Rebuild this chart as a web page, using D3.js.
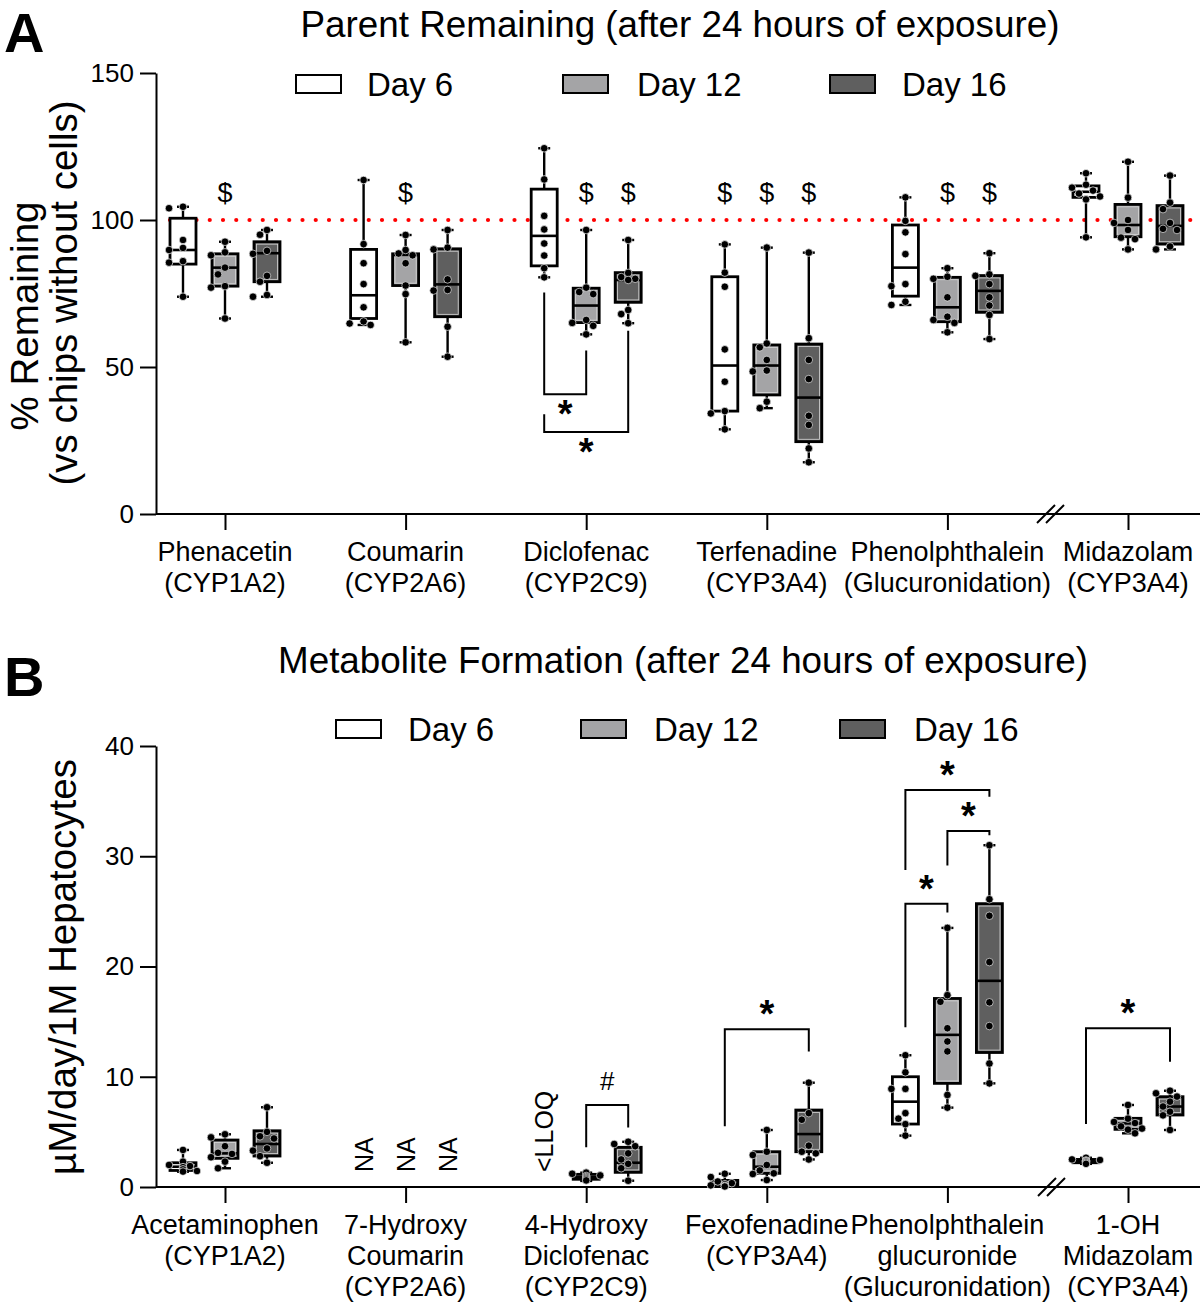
<!DOCTYPE html>
<html><head><meta charset="utf-8">
<script src="https://cdn.jsdelivr.net/npm/d3@7"></script>
<style>body{margin:0;background:#fff}svg{display:block}text{font-family:"Liberation Sans",Arial,sans-serif;fill:#000}</style>
</head><body><svg id="c" width="1200" height="1304"></svg>
<script>
// ---------- DATA ----------
const days = ["Day 6", "Day 12", "Day 16"];
const dayFill = ["#ffffff", "#a4a4a6", "#5f5f5f"];

// Panel A
const catsA = ["Phenacetin", "Coumarin", "Diclofenac", "Terfenadine", "Phenolphthalein", "Midazolam"];
const subA = ["(CYP1A2)", "(CYP2A6)", "(CYP2C9)", "(CYP3A4)", "(Glucuronidation)", "(CYP3A4)"];
const yTicksA = [0, 50, 100, 150];
// [min, q1, median, q3, max] per category, per day
const boxA = [
  [[73.9, 85, 89.8, 100.6, 104.5], [66.5, 77.5, 83.8, 88.5, 92.6], [73.9, 79, 88.7, 92.6, 96.6]],
  [[64.3, 66.5, 74.4, 90, 113.6], [58.4, 77.7, 88.1, 88.5, 94.9], [53.5, 67.1, 78.1, 90.2, 96.6]],
  [[80.5, 84.4, 94.6, 110.5, 124.4], [61.1, 65.1, 70.9, 76.8, 96.6], [64.9, 72, 79.6, 82.1, 93.2]],
  [[28.8, 35, 50.5, 80.7, 91.7], [36, 40.5, 50.5, 57.5, 90.6], [17.6, 24.6, 39.6, 57.8, 88.9]],
  [[71.1, 74.1, 83.8, 98.3, 107.7], [61.8, 65.4, 70.3, 80.5, 83.6], [59.5, 68.6, 75.9, 81.1, 88.7]],
  [[94.1, 107.7, 109.6, 111.6, 115.9], [90, 94.3, 98.3, 105.3, 119.8], [90, 91.8, 98, 104.9, 115.1]]
];
const ptsA = [
  [[104.5, 104, 93.2, 90.5, 89.8, 86, 85.5, 73.9], [92.6, 89, 88, 83.8, 81.5, 77.5, 77, 66.5], [96.6, 95, 89.5, 88.5, 81, 79, 74.5, 73.9]],
  [[113.6, 91.8, 85.3, 78.2, 70.3, 65.5, 64.8, 64.3], [94.9, 89.8, 88.6, 88, 85.3, 77.7, 74.8, 58.4], [96.6, 90.6, 90, 79.8, 76.2, 76, 63.7, 53.5]],
  [[124.4, 113.8, 101.4, 96.8, 92, 87.9, 83.6, 80.5], [96.6, 77, 75.5, 74.8, 66, 65, 64, 61.1], [93.2, 82, 80.6, 80, 79.6, 69.4, 68, 64.9]],
  [[91.7, 82.1, 77.3, 56, 45, 35, 34.2, 28.8], [90.6, 58, 56.7, 52.4, 48.8, 48.5, 38.2, 36], [88.9, 59.8, 52.4, 45.9, 33.4, 30.3, 22.3, 17.6]],
  [[107.7, 99.7, 95.8, 88.4, 78.2, 77.5, 72.2, 71.1], [83.6, 80.7, 80, 73.7, 67.1, 66, 65, 61.8], [88.7, 81.5, 81, 78.2, 73.7, 70.9, 67.7, 59.5]],
  [[115.9, 112, 111, 110, 109, 108, 107, 94.1], [119.8, 107.6, 100, 99, 96.6, 94, 93.5, 90], [115.1, 105.9, 103.7, 99, 97, 96.6, 91, 90]]
];
const refLineA = 100;
// "$" markers: [category, day]
const dollarA = [[0, 1], [1, 1], [2, 1], [2, 2], [3, 0], [3, 1], [3, 2], [4, 1], [4, 2]];
const dollarLevelA = 109.5;
// brackets (below style): cat, fromDay, toDay, leftEnd, bottom, rightEnd, label
const bracketsA = [
  [2, 0, 1, 75.3, 40.7, 55.6, "*"],
  [2, 0, 2, 33.9, 27.9, 62.3, "*"]
];

// Panel B
const catsB = [["Acetaminophen", "(CYP1A2)"], ["7-Hydroxy", "Coumarin", "(CYP2A6)"], ["4-Hydroxy", "Diclofenac", "(CYP2C9)"],
  ["Fexofenadine", "(CYP3A4)"], ["Phenolphthalein", "glucuronide", "(Glucuronidation)"], ["1-OH", "Midazolam", "(CYP3A4)"]];
const yTicksB = [0, 10, 20, 30, 40];
const boxB = [
  [[1.39, 1.5, 1.84, 2.2, 3.36], [1.7, 2.6, 3.05, 4.26, 4.78], [2.2, 2.81, 3.9, 5.1, 7.23]],
  [null, null, null],
  [null, [0.55, 0.7, 0.9, 1.15, 1.3], [0.57, 1.33, 2.2, 3.6, 4.1]],
  [[0.05, 0.1, 0.3, 0.6, 1.2], [0.63, 1.24, 1.84, 3.2, 5.17], [2.5, 3.2, 4.8, 6.98, 9.46]],
  [[4.66, 5.71, 7.74, 10.0, 11.95], [7.2, 9.4, 13.8, 17.1, 23.5], [9.4, 12.2, 18.7, 25.7, 31.0]],
  [[2.1, 2.2, 2.35, 2.5, 2.65], [4.87, 5.23, 5.77, 6.23, 7.44], [5.17, 6.53, 7.3, 8.19, 8.73]]
];
const ptsB = [
  [[3.36, 2.3, 2.0, 1.9, 1.8, 1.6, 1.45, 1.4], [4.78, 4.5, 3.7, 3.1, 3.0, 2.7, 2.3, 1.7], [7.23, 5.0, 4.6, 4.4, 3.5, 3.3, 2.8, 2.2]],
  [[], [], []],
  [[], [1.3, 1.2, 1.05, 1.0, 0.9, 0.8, 0.7, 0.6], [4.1, 3.9, 3.7, 3.05, 2.5, 2.1, 1.7, 0.57]],
  [[1.2, 0.9, 0.5, 0.35, 0.25, 0.15, 0.1, 0.05], [5.17, 3.2, 2.9, 2.0, 1.5, 1.24, 1.18, 0.63], [9.46, 6.7, 6.1, 3.75, 3.2, 3.05, 2.5]],
  [[11.95, 10.4, 8.9, 8.9, 6.7, 6.2, 5.7, 4.66], [23.5, 17.4, 16.8, 14.4, 13.2, 12.3, 8.35, 7.2], [31.0, 26.1, 24.6, 20.4, 16.75, 14.6, 11.2, 9.4]],
  [[2.65, 2.5, 2.45, 2.4, 2.35, 2.3, 2.2, 2.1], [7.44, 6.2, 5.9, 5.8, 5.5, 5.3, 5.2, 4.87], [8.73, 8.5, 8.2, 7.74, 7.3, 6.83, 6.5, 5.17]]
];
// rotated text notes: [category, day, text]
const notesB = [[1, 0, "NA"], [1, 1, "NA"], [1, 2, "NA"], [2, 0, "<LLOQ"]];
// brackets (above style): cat, fromDay, toDay, leftEnd, top, rightEnd, label
const bracketsB = [
  [2, 1, 2, 3.6, 7.44, 5.4, "#"],
  [3, 0, 2, 5.5, 14.3, 12.3, "*"],
  [4, 0, 1, 14.5, 25.7, 24.9, "*"],
  [4, 1, 2, 29.15, 32.3, 31.9, "*"],
  [4, 0, 2, 28.75, 36.0, 35.4, "*"],
  [5, 0, 2, 5.71, 14.4, 11.37, "*"]
];

// ---------- DRAW ----------
const svg = d3.select("#c");
const FONT = '"Liberation Sans",Arial,sans-serif';
const xLeft = 156, xRight = 1200;

function panel(cfg) {
  const g = svg.append("g");
  const y = d3.scaleLinear().domain(cfg.yDomain).range([cfg.y0, cfg.y1]);
  const xc = d3.scalePoint().domain(d3.range(6)).range([225, 1128]);
  const xd = d3.scalePoint().domain(d3.range(3)).range([-42, 42]);
  const X = (c, d) => xc(c) + xd(d);

  // y axis
  const ya = g.append("g").attr("transform", `translate(${xLeft},0)`)
    .call(d3.axisLeft(y).tickValues(cfg.yTicks).tickSize(16).tickSizeOuter(0).tickPadding(6));
  ya.select(".domain").attr("stroke-width", 2);
  ya.selectAll(".tick line").attr("stroke-width", 2);
  ya.selectAll(".tick text").attr("font-size", 26).attr("font-family", FONT);

  // x axis
  const xa = g.append("g").attr("transform", `translate(0,${cfg.y0})`)
    .call(d3.axisBottom(xc).tickSize(16).tickFormat(""));
  xa.select(".domain").remove();
  xa.selectAll(".tick line").attr("stroke-width", 2);
  g.append("line").attr("x1", xLeft).attr("x2", xRight).attr("y1", cfg.y0).attr("y2", cfg.y0)
    .attr("stroke", "#000").attr("stroke-width", 2);
  // break marks
  [cfg.brk, cfg.brk + 9].forEach(bx => {
    g.append("line").attr("x1", bx - 9).attr("y1", cfg.y0 + 9).attr("x2", bx + 9).attr("y2", cfg.y0 - 9)
      .attr("stroke", "#000").attr("stroke-width", 2);
  });

  // category labels
  cfg.labels.forEach((lines, i) => {
    const t = g.append("text").attr("text-anchor", "middle").attr("font-size", 27);
    lines.forEach((l, k) => t.append("tspan").attr("x", xc(i)).attr("y", cfg.y0 + 47 + k * 31).text(l));
  });

  // title
  g.append("text").attr("x", cfg.titleX).attr("y", cfg.titleY).attr("text-anchor", "middle")
    .attr("font-size", 36.8).text(cfg.title);
  // panel letter
  g.append("text").attr("x", 4).attr("y", cfg.letterY).attr("font-size", 56).attr("font-weight", "bold").text(cfg.letter);

  // legend
  cfg.legend.forEach((lx, i) => {
    g.append("rect").attr("x", lx[0]).attr("y", cfg.legY - 9).attr("width", 45).attr("height", 18)
      .attr("fill", dayFill[i]).attr("stroke", "#000").attr("stroke-width", 2);
    g.append("text").attr("x", lx[1]).attr("y", cfg.legY + 12).attr("font-size", 33).text(days[i]);
  });

  // y label
  cfg.ylab.forEach(([txt, cx, cy]) => {
    g.append("text").attr("transform", `translate(${cx},${cy}) rotate(-90)`).attr("text-anchor", "middle")
      .attr("dy", "0.35em").attr("font-size", 38.5).text(txt);
  });

  if (cfg.ref != null) {
    g.append("line").attr("x1", 170).attr("x2", 1200).attr("y1", y(cfg.ref)).attr("y2", y(cfg.ref))
      .attr("stroke", "#ff0000").attr("stroke-width", 4.2).attr("stroke-linecap", "round")
      .attr("stroke-dasharray", "0 13.25");
  }

  // boxes
  const bw = 26, cw = 12, r = 3.8;
  cfg.boxes.forEach((row, c) => row.forEach((b, d) => {
    if (!b) return;
    const cx = X(c, d);
    const bg = g.append("g");
    bg.append("line").attr("x1", cx).attr("x2", cx).attr("y1", y(b[0])).attr("y2", y(b[4]))
      .attr("stroke", "#000").attr("stroke-width", 2.4);
    [b[0], b[4]].forEach(v => bg.append("line").attr("x1", cx - cw / 2).attr("x2", cx + cw / 2)
      .attr("y1", y(v)).attr("y2", y(v)).attr("stroke", "#000").attr("stroke-width", 2.4));
    bg.append("rect").attr("x", cx - bw / 2).attr("y", y(b[3])).attr("width", bw)
      .attr("height", Math.max(1, y(b[1]) - y(b[3]))).attr("fill", dayFill[d])
      .attr("stroke", "#000").attr("stroke-width", 2.8);
    if (d > 0) {
      bg.append("rect").attr("x", cx - bw / 2 + 2.4).attr("y", y(b[3]) + 2.4).attr("width", bw - 4.8)
        .attr("height", Math.max(0, y(b[1]) - y(b[3]) - 4.8)).attr("fill", "none")
        .attr("stroke", "#d8d8d8").attr("stroke-width", 0.8);
    }
    bg.append("line").attr("x1", cx - bw / 2).attr("x2", cx + bw / 2).attr("y1", y(b[2])).attr("y2", y(b[2]))
      .attr("stroke", "#000").attr("stroke-width", 2.6);
    // points (simple deterministic swarm)
    const pts = cfg.points[c][d].map(v => ({ v, py: y(v) })).sort((a, b2) => a.py - b2.py);
    const placed = [];
    pts.forEach(p => {
      const offs = [0, -7, 7, -14, 14];
      let ox = 0;
      for (const o of offs) {
        if (!placed.some(q => Math.hypot(q.ox - o, q.py - p.py) < 2 * r + 0.2)) { ox = o; break; }
      }
      p.ox = ox; placed.push(p);
      bg.append("circle").attr("cx", cx + ox).attr("cy", p.py).attr("r", r)
        .attr("fill", "#000").attr("stroke", d > 0 ? "#e6e6e6" : "#fff").attr("stroke-width", 0.7);
    });
  }));

  return { g, y, X };
}

// Panel A
const A = panel({
  yDomain: [0, 150], y0: 514, y1: 73, yTicks: yTicksA, brk: 1046,
  labels: catsA.map((c, i) => [c, subA[i]]),
  title: "Parent Remaining (after 24 hours of exposure)", titleX: 680, titleY: 37,
  letter: "A", letterY: 52,
  legend: [[296, 367], [563, 637], [830, 902]], legY: 84,
  ylab: [["% Remaining", 25, 316], ["(vs chips without cells)", 64, 293]],
  ref: refLineA, boxes: boxA, points: ptsA
});
dollarA.forEach(([c, d]) => {
  A.g.append("text").attr("x", A.X(c, d)).attr("y", A.y(dollarLevelA) + 10).attr("text-anchor", "middle")
    .attr("font-size", 27).text("$");
});
bracketsA.forEach(([c, d1, d2, le, bot, re, lab]) => {
  const x1 = A.X(c, d1), x2 = A.X(c, d2);
  A.g.append("path").attr("d", `M${x1},${A.y(le)}V${A.y(bot)}H${x2}V${A.y(re)}`)
    .attr("fill", "none").attr("stroke", "#000").attr("stroke-width", 2);
  A.g.append("text").attr("x", (x1 + x2) / 2).attr("y", A.y(bot) + 33).attr("text-anchor", "middle")
    .attr("font-size", 38).attr("font-weight", "bold").text(lab);
});

// Panel B
const B = panel({
  yDomain: [0, 40], y0: 1187, y1: 746, yTicks: yTicksB, brk: 1047,
  labels: catsB,
  title: "Metabolite Formation (after 24 hours of exposure)", titleX: 683, titleY: 673,
  letter: "B", letterY: 696,
  legend: [[336, 408], [581, 654], [840, 914]], legY: 729,
  ylab: [["µM/day/1M Hepatocytes", 63, 967]],
  ref: null, boxes: boxB, points: ptsB
});
notesB.forEach(([c, d, txt]) => {
  B.g.append("text").attr("transform", `translate(${B.X(c, d)},1172) rotate(-90)`).attr("dy", "0.36em")
    .attr("font-size", 25).text(txt);
});
bracketsB.forEach(([c, d1, d2, le, top, re, lab]) => {
  const x1 = B.X(c, d1), x2 = B.X(c, d2);
  B.g.append("path").attr("d", `M${x1},${B.y(le)}V${B.y(top)}H${x2}V${B.y(re)}`)
    .attr("fill", "none").attr("stroke", "#000").attr("stroke-width", 2);
  const isHash = lab === "#";
  B.g.append("text").attr("x", (x1 + x2) / 2).attr("y", B.y(top) - (isHash ? 15 : 2)).attr("text-anchor", "middle")
    .attr("font-size", isHash ? 26 : 38).attr("font-weight", isHash ? "normal" : "bold").text(lab);
});
</script></body></html>
